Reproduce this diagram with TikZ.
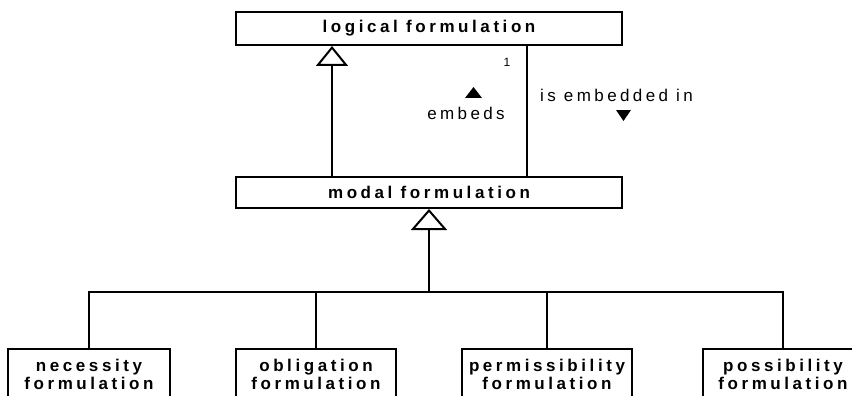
\documentclass[tikz,border=0pt]{standalone}
\usepackage{fontspec}
\setmainfont{Liberation Sans}
\usetikzlibrary{arrows.meta,positioning}

\begin{document}
\begin{tikzpicture}[x=1pt,y=-1pt,
  classbox/.style={draw, line width=2pt, inner sep=0pt, align=center,
    font=\fontsize{17}{18}\bfseries\addfontfeatures{LetterSpace=21}},
  genline/.style={line width=2pt, -{Triangle[open, length=20pt, width=32pt, fill=white]}},
  treeline/.style={line width=2pt},
  rolelabel/.style={inner sep=0pt, font=\fontsize{17}{18}\selectfont\addfontfeatures{LetterSpace=20}},
  multlabel/.style={inner sep=0pt, font=\fontsize{12}{13}\selectfont}]
\useasboundingbox (0,0) rectangle (852,396);
\clip (0,0) rectangle (852,396);
% classes
\node[classbox, minimum width=386pt, minimum height=33pt] (logical) at (429,28.5) {logical formulation};
\node[classbox, minimum width=386pt, minimum height=31pt] (modal) at (429,192.5) {modal formulation};
\node[classbox, minimum width=162pt, minimum height=50pt] (necessity) at (89,374) {necessity\\formulation};
\node[classbox, minimum width=160pt, minimum height=50pt] (obligation) at (316,374) {obligation\\formulation};
\node[classbox, minimum width=170pt, minimum height=50pt] (permissibility) at (547,374) {permissibility\\formulation};
\node[classbox, minimum width=160pt, minimum height=50pt] (possibility) at (783,374) {possibility\\formulation};
% modal -> logical
\draw[genline] ([xshift=-97pt]modal.north) -- ([xshift=-97pt]logical.south);
\draw[treeline] ([xshift=98pt]logical.south) -- ([xshift=98pt]modal.north);
\node[multlabel] (mult) at (507,62) {1};
\node[rolelabel] (embeds) at (466,113) {embeds};
\node[rolelabel, anchor=west] (embin) at (540,95) {is embedded in};
\fill (465,98) -- (482,98) -- (473.5,87) -- cycle;
\fill (616,110) -- (631,110) -- (623.5,121) -- cycle;
% subclasses
\coordinate (bus) at (429,292);
\draw[genline, -{Triangle[open, length=21pt, width=36pt, fill=white]}] (bus) -- (modal.south);
\draw[treeline] (necessity.north) |- (bus) -| (possibility.north);
\draw[treeline] (obligation.north) -- (obligation.north |- bus);
\draw[treeline] (permissibility.north) -- (permissibility.north |- bus);
\end{tikzpicture}
\end{document}
